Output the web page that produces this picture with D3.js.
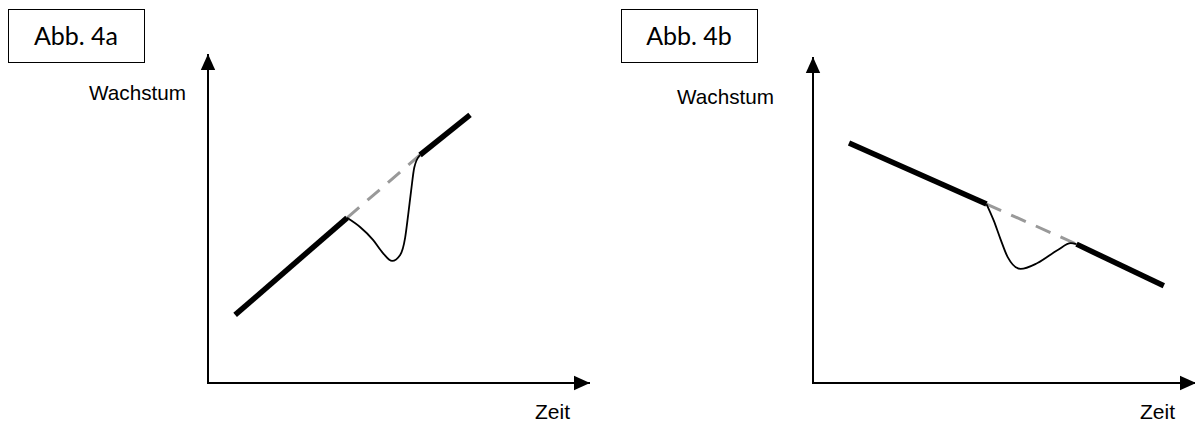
<!DOCTYPE html>
<html><head><meta charset="utf-8">
<script src="https://cdn.jsdelivr.net/npm/d3@7"></script>
<style>body{margin:0;background:#fff}svg{display:block}</style>
</head><body>
<svg id="c" width="1195" height="425"></svg>
<script>
// Panel titles and axis labels
const panelTitles = ["Abb. 4a", "Abb. 4b"];
const yLabel = "Wachstum";
const xLabel = "Zeit";
// Panel A (data units 0..10)
const aTrendBefore = [[0.71, 2.07], [3.64, 5.02]];
const aTrendGap    = [[3.64, 5.02], [5.55, 6.93]];
const aTrendAfter  = [[5.55, 6.93], [6.86, 8.15]];
const aShock = [[3.64,5.02],[3.98,4.74],[4.32,4.35],[4.58,3.95],[4.82,3.71],[5.03,3.89],[5.16,4.41],[5.24,5.11],[5.32,5.87],[5.40,6.55],[5.55,6.93]];
// Panel B
const bTrendBefore = [[0.94, 7.36], [4.53, 5.49]];
const bTrendGap    = [[4.53, 5.49], [6.88, 4.26]];
const bTrendAfter  = [[6.88, 4.26], [9.16, 2.98]];
const bShock = [[4.53,5.49],[4.72,4.98],[4.90,4.40],[5.08,3.87],[5.42,3.50],[5.86,3.68],[6.39,4.08],[6.73,4.29],[6.88,4.26]];

const svg = d3.select("#c");
const defs = svg.append("defs");
defs.append("marker").attr("id","arr").attr("viewBox","0 0 10 10")
  .attr("refX",10).attr("refY",5).attr("markerWidth",16).attr("markerHeight",16)
  .attr("markerUnits","userSpaceOnUse").attr("orient","auto")
  .append("path").attr("d","M0,0.5L10,5L0,9.5Z").attr("fill","#000");

function panel(cfg){
  const x = d3.scaleLinear().domain([0,10]).range(cfg.xr);
  const y = d3.scaleLinear().domain([0,10]).range(cfg.yr);
  const g = svg.append("g");
  // title box
  g.append("rect").attr("x",cfg.box[0]+0.5).attr("y",cfg.box[1]+0.5)
    .attr("width",cfg.box[2]).attr("height",cfg.box[3])
    .attr("fill","none").attr("stroke","#000").attr("stroke-width",1);
  g.append("text").attr("x",cfg.box[0]+cfg.box[2]/2).attr("y",cfg.box[1]+cfg.box[3]/2)
    .attr("dy","0.36em").attr("text-anchor","middle")
    .attr("font-family","Lato, 'Open Sans', sans-serif").attr("font-size",25)
    .text(cfg.title);
  // axes
  g.append("line").attr("x1",x(0)).attr("y1",y(0)).attr("x2",x(0)).attr("y2",y(10))
    .attr("stroke","#000").attr("stroke-width",2).attr("marker-end","url(#arr)");
  g.append("line").attr("x1",x(0)-1).attr("y1",y(0)).attr("x2",x(10)).attr("y2",y(0))
    .attr("stroke","#000").attr("stroke-width",2).attr("marker-end","url(#arr)");
  g.append("text").attr("x",cfg.yl[0]).attr("y",cfg.yl[1]).attr("text-anchor","end")
    .attr("font-family","'Liberation Sans', Arial, sans-serif").attr("font-size",20.7).text(yLabel);
  g.append("text").attr("x",cfg.xl[0]).attr("y",cfg.xl[1]).attr("text-anchor","end")
    .attr("font-family","'Liberation Sans', Arial, sans-serif").attr("font-size",21).text(xLabel);
  const line = d3.line().x(d=>x(d[0])).y(d=>y(d[1]));
  const curve = d3.line().x(d=>x(d[0])).y(d=>y(d[1])).curve(d3.curveMonotoneX);
  g.append("path").attr("d",line(cfg.gap)).attr("fill","none").attr("stroke","#999")
    .attr("stroke-width",3).attr("stroke-dasharray","16,11");
  g.append("path").attr("d",curve(cfg.shock)).attr("fill","none").attr("stroke","#000").attr("stroke-width",1.8);
  [cfg.before,cfg.after].forEach(s=>g.append("path").attr("d",line(s)).attr("fill","none")
    .attr("stroke","#000").attr("stroke-width",5.5));
}
panel({title:panelTitles[0], box:[8,9,136,53], xr:[208,590], yr:[383,54], yl:[186,100], xl:[570,419],
  before:aTrendBefore, gap:aTrendGap, after:aTrendAfter, shock:aShock});
panel({title:panelTitles[1], box:[621,9,136,53], xr:[813,1196], yr:[383,57], yl:[774,104], xl:[1175,419],
  before:bTrendBefore, gap:bTrendGap, after:bTrendAfter, shock:bShock});
</script>
</body></html>
